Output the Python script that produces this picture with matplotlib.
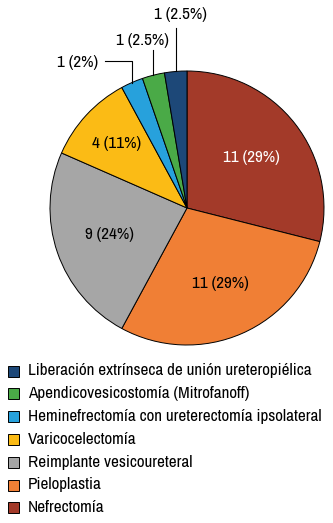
import numpy as np
import matplotlib
matplotlib.use('Agg')
import matplotlib.pyplot as plt
from matplotlib.patches import Rectangle

plt.rcParams['font.family'] = ['Archivo Narrow', 'Roboto Condensed', 'DejaVu Sans']

# data, in clockwise order from 12 o'clock
categories = ['Nefrectomía', 'Pieloplastia', 'Reimplante vesicoureteral',
              'Varicocelectomía', 'Heminefrectomía con ureterectomía ipsolateral',
              'Apendicovesicostomía (Mitrofanoff)',
              'Liberación extrínseca de unión ureteropiélica']
counts = [11, 11, 9, 4, 1, 1, 1]
pct_labels = ['29%', '29%', '24%', '11%', '2%', '2.5%', '2.5%']
colors = ['#a33a29', '#f07f35', '#a6a6a6', '#fbbb15', '#27a1dc', '#4aaa47', '#1d4878']

W, H = 333, 523
fig = plt.figure(figsize=(W / 100, H / 100), dpi=100)
ax = fig.add_axes([0, 0, 1, 1])

cx, cy, R = 187, H - 208, 137
wedges, _ = ax.pie(counts, colors=colors, startangle=90, counterclock=False,
                   center=(cx, cy), radius=R, frame=True,
                   wedgeprops=dict(edgecolor='black', linewidth=0.7))
ax.set_xlim(0, W)
ax.set_ylim(0, H)
ax.set_aspect('equal')
ax.axis('off')

fs = 12.3
# inside labels
inside_r = [0.6, 0.6, 0.6, 0.7]
text_cols = ['white', 'black', 'black', 'black']
for i in range(4):
    w = wedges[i]
    ang = np.deg2rad((w.theta1 + w.theta2) / 2)
    ax.text(cx + inside_r[i] * R * np.cos(ang), cy + inside_r[i] * R * np.sin(ang),
            f'{counts[i]} ({pct_labels[i]})', ha='center', va='center',
            fontsize=fs, color=text_cols[i])

# outside labels with leader lines (tops in pixels from top)
line_top = {4: 61, 5: 50, 6: 28}
label_pos = {4: (78, 62), 5: (142, 40), 6: (180, 15)}
for i in (4, 5, 6):
    w = wedges[i]
    ang = np.deg2rad((w.theta1 + w.theta2) / 2)
    x0, y0 = cx + R * np.cos(ang), cy + R * np.sin(ang)
    xs, ys = [x0, x0], [y0, H - line_top[i]]
    if i == 4:
        xs.append(105)
        ys.append(H - line_top[i])
    ax.plot(xs, ys, color='black', linewidth=0.8)
    lx, ly = label_pos[i]
    ax.text(lx, H - ly, f'{counts[i]} ({pct_labels[i]})', ha='center', va='center',
            fontsize=fs, color='black')

# legend, drawn by hand
leg_top = 371
pitch = 22.8
for k, i in enumerate(range(len(categories) - 1, -1, -1)):
    y = H - (leg_top + k * pitch)
    ax.add_patch(Rectangle((8, y - 5.5), 11, 11, facecolor=colors[i],
                           edgecolor='black', linewidth=0.7))
    ax.text(28, y, categories[i], ha='left', va='center', fontsize=fs, color='black')

fig.savefig('out.png', dpi=100)
